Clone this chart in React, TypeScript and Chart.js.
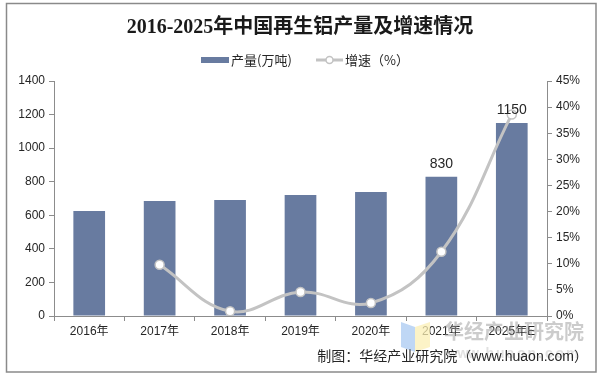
import React, { useEffect, useRef } from "react";
import { Chart, registerables } from "chart.js";

Chart.register(...registerables);

const categories = ["2016年", "2017年", "2018年", "2019年", "2020年", "2021年", "2025年E"];
const output = [625, 685, 691, 721, 739, 830, 1150];
const growth: (number | null)[] = [null, 9.8, 0.9, 4.6, 2.5, 12.3, 38.6];
const labeledBars = [5, 6];
const leftTicks = [0, 200, 400, 600, 800, 1000, 1200, 1400];
const rightTicks = [0, 5, 10, 15, 20, 25, 30, 35, 40, 45];

const TITLE = "2016-2025年中国再生铝产量及增速情况";
const LEGEND_BAR = "产量(万吨)";
const LEGEND_LINE = "增速（%）";
const SOURCE = "制图：华经产业研究院（www.huaon.com）";

const BAR_COLOR = "#687ba0";
const LINE_COLOR = "#c3c3c3";
const AXIS_COLOR = "#8c8c8c";
const TEXT_COLOR = "#262626";
const SANS = '"Liberation Sans", "Noto Sans CJK SC", sans-serif';

const decorPlugin = {
  id: "decor",
  afterDraw(chart: any) {
    const ctx = chart.ctx as CanvasRenderingContext2D;
    ctx.save();
    // border
    ctx.strokeStyle = "#8a8a8a";
    ctx.lineWidth = 1.5;
    ctx.strokeRect(6.5, 3.5, 589.5, 368.5);

    // title
    ctx.fillStyle = "#1a1a1a";
    ctx.font = 'bold 20px "Liberation Serif", "Noto Sans CJK SC", serif';
    ctx.textAlign = "center";
    ctx.textBaseline = "middle";
    ctx.fillText(TITLE, 300, 28);

    // legend
    ctx.font = '13px "Noto Sans CJK SC", sans-serif';
    ctx.textAlign = "left";
    ctx.fillStyle = BAR_COLOR;
    ctx.fillRect(201, 57, 28, 6);
    ctx.fillStyle = TEXT_COLOR;
    ctx.fillText(LEGEND_BAR, 231, 60);
    ctx.strokeStyle = LINE_COLOR;
    ctx.lineWidth = 3;
    ctx.beginPath();
    ctx.moveTo(316, 60);
    ctx.lineTo(343, 60);
    ctx.stroke();
    ctx.beginPath();
    ctx.arc(329.5, 60, 3.5, 0, Math.PI * 2);
    ctx.fillStyle = "#ffffff";
    ctx.fill();
    ctx.lineWidth = 1.5;
    ctx.stroke();
    ctx.fillStyle = TEXT_COLOR;
    ctx.fillText(LEGEND_LINE, 345, 60);

    // bar value labels
    const meta = chart.getDatasetMeta(0);
    ctx.font = "14px " + SANS;
    ctx.textAlign = "center";
    ctx.textBaseline = "bottom";
    ctx.fillStyle = TEXT_COLOR;
    labeledBars.forEach((i) => {
      const el = meta.data[i];
      ctx.fillText(String(output[i]), el.x, el.y - 6);
    });

    // watermark logo
    ctx.globalAlpha = 0.75;
    ctx.fillStyle = "#a9c9f2";
    ctx.beginPath();
    ctx.moveTo(401, 322);
    ctx.lineTo(415, 327);
    ctx.lineTo(415, 352);
    ctx.lineTo(401, 347);
    ctx.closePath();
    ctx.fill();
    ctx.fillStyle = "#fbefb4";
    ctx.beginPath();
    ctx.moveTo(415, 327);
    ctx.lineTo(430, 322);
    ctx.lineTo(430, 347);
    ctx.lineTo(415, 352);
    ctx.closePath();
    ctx.fill();

    // watermark text
    ctx.globalAlpha = 0.5;
    ctx.fillStyle = "#9a9a9a";
    ctx.font = 'bold 20px "Noto Sans CJK SC", sans-serif';
    ctx.textAlign = "left";
    ctx.textBaseline = "middle";
    ctx.fillText("华经产业研究院", 444, 331);
    ctx.globalAlpha = 0.3;
    ctx.font = "bold 14px " + SANS;
    const wm = "www.huaon.com";
    let x = 447;
    for (const ch of wm) {
      ctx.fillText(ch, x, 354);
      x += ch === "." ? 7 : 10.5;
    }
    ctx.globalAlpha = 1;

    // source
    ctx.fillStyle = TEXT_COLOR;
    ctx.font = '14px "Liberation Sans", "Noto Sans CJK SC", sans-serif';
    ctx.textAlign = "right";
    ctx.textBaseline = "middle";
    ctx.fillText(SOURCE, 588, 357);
    ctx.restore();
  },
};

export default function App() {
  const ref = useRef<HTMLCanvasElement | null>(null);
  useEffect(() => {
    if (!ref.current) return;
    const chart = new Chart(ref.current, {
      type: "bar",
      data: {
        labels: categories,
        datasets: [
          {
            type: "bar",
            label: LEGEND_BAR,
            data: output,
            backgroundColor: BAR_COLOR,
            barPercentage: 0.9,
            categoryPercentage: 0.5,
            yAxisID: "y",
            order: 2,
          },
          {
            type: "line",
            label: LEGEND_LINE,
            data: growth,
            borderColor: LINE_COLOR,
            borderWidth: 3,
            tension: 0.4,
            pointRadius: 4.5,
            pointBackgroundColor: "#ffffff",
            pointBorderColor: LINE_COLOR,
            pointBorderWidth: 1.5,
            yAxisID: "y1",
            order: 1,
          } as any,
        ],
      },
      options: {
        animation: false,
        responsive: false,
        layout: { padding: { top: 81, left: 0, right: 0, bottom: 0 } },
        plugins: {
          legend: { display: false },
          title: { display: false },
          tooltip: { enabled: false },
        },
        scales: {
          x: {
            offset: true,
            grid: {
              offset: true,
              drawOnChartArea: false,
              drawTicks: true,
              tickLength: 5,
              color: AXIS_COLOR,
            },
            border: { color: AXIS_COLOR, width: 1 },
            ticks: {
              color: TEXT_COLOR,
              font: { family: SANS, size: 12 },
              padding: 3,
              maxRotation: 0,
              autoSkip: false,
            },
            afterFit: (s: any) => {
              s.height = 60;
            },
          },
          y: {
            position: "left",
            min: 0,
            max: 1400,
            afterBuildTicks: (s: any) => {
              s.ticks = leftTicks.map((v) => ({ value: v }));
            },
            grid: {
              drawOnChartArea: false,
              drawTicks: true,
              tickLength: 5,
              color: AXIS_COLOR,
            },
            border: { color: AXIS_COLOR, width: 1 },
            ticks: {
              color: TEXT_COLOR,
              font: { family: SANS, size: 12 },
              padding: 4,
              callback: (v: any) => String(v),
            },
            afterFit: (s: any) => {
              s.width = 54;
            },
          },
          y1: {
            position: "right",
            min: 0,
            max: 45,
            afterBuildTicks: (s: any) => {
              s.ticks = rightTicks.map((v) => ({ value: v }));
            },
            grid: {
              drawOnChartArea: false,
              drawTicks: true,
              tickLength: 5,
              color: AXIS_COLOR,
            },
            border: { color: AXIS_COLOR, width: 1 },
            ticks: {
              color: TEXT_COLOR,
              font: { family: SANS, size: 12 },
              padding: 4,
              callback: (v: any) => v + "%",
            },
            afterFit: (s: any) => {
              s.width = 53;
            },
          },
        },
      },
      plugins: [decorPlugin],
    });
    return () => chart.destroy();
  }, []);

  return (
    <div style={{ position: "fixed", left: 0, top: 0, width: 600, height: 376, background: "#fff" }}>
      <canvas ref={ref} width={600} height={376} style={{ width: 600, height: 376, display: "block" }} />
    </div>
  );
}
